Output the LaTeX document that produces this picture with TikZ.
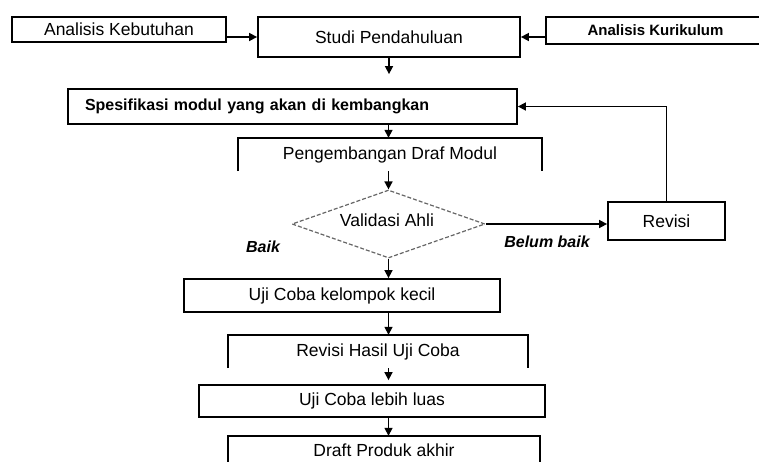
\documentclass[tikz,border=0pt]{standalone}
\usepackage{fontspec}
\setmainfont{Liberation Sans}
\usetikzlibrary{shapes.geometric,arrows.meta,calc}
\begin{document}
\begin{tikzpicture}[x=1pt,y=-1pt,
  box/.style={draw, line width=1.8pt, inner sep=0pt, anchor=center},
  obox/.style={inner sep=0pt, anchor=center},
  oline/.style={line width=1.8pt},
  arr/.style={line width=1.6pt, -{Triangle[length=8pt,width=8pt]}},
  ftop/.style={font=\fontsize{17.5}{20}\selectfont},
  fbold/.style={font=\fontsize{15}{18}\selectfont\bfseries},
  fspes/.style={font=\fontsize{16}{19}\selectfont\bfseries},
  fmid/.style={font=\fontsize{17.5}{20}\selectfont},
  flab/.style={font=\fontsize{16}{19}\selectfont\bfseries\itshape},
  dia/.style={shape=diamond, draw=black!60, dashed, dash pattern=on 4pt off 2pt, line width=1.2pt, inner sep=0pt, aspect=2.84, minimum width=193pt, minimum height=68pt}
]
\useasboundingbox (0,0) rectangle (759,461);
\clip (0,0) rectangle (759,461);

\node[box, ftop, minimum width=214pt, minimum height=25pt] (keb) at (119,29.5) {Analisis Kebutuhan};
\node[box, ftop, minimum width=262pt, minimum height=40pt] (studi) at (389,37) {Studi Pendahuluan};
\node[box, fbold, minimum width=219pt, minimum height=27pt] (kur) at (655.5,30.5) {Analisis Kurikulum};

\node[box, fspes, minimum width=449pt, minimum height=35pt, text width=415pt, inner xsep=17pt, align=left] (spes) at (292.5,106.5) {Spesifikasi modul yang akan di kembangkan};

\node[obox, fmid, minimum width=304pt, minimum height=33pt] (peng) at (390,154.5) {Pengembangan Draf Modul};
\draw[oline] (peng.south west) -- (peng.north west) -- (peng.north east) -- (peng.south east);

\node[dia] (val) at (388.5,224) {};
\node[fmid, inner sep=0pt] (valt) at (387,220) {Validasi Ahli};

\node[box, fmid, minimum width=117pt, minimum height=38pt] (rev) at (666.5,221) {Revisi};

\node[flab] (baik) at (263,247) {Baik};
\node[flab] (belum) at (547,242) {Belum baik};

\node[box, fmid, minimum width=316pt, minimum height=33pt] (uk) at (342,295.5) {Uji Coba kelompok kecil};

\node[obox, fmid, minimum width=300pt, minimum height=33pt] (rh) at (378,351.5) {Revisi Hasil Uji Coba};
\draw[oline] (rh.south west) -- (rh.north west) -- (rh.north east) -- (rh.south east);

\node[box, fmid, minimum width=346pt, minimum height=32pt] (ul) at (372,401) {Uji Coba lebih luas};

\node[obox, fmid, minimum width=312pt, minimum height=28pt] (dr) at (384,450) {Draft Produk akhir};
\draw[oline] (dr.south west) -- (dr.north west) -- (dr.north east) -- (dr.south east);

% connectors
\draw[arr] (keb.east |- studi.west) -- (studi.west);
\draw[arr] (kur.west |- studi.east) -- (studi.east);
\draw[arr, shorten >=14pt] (studi.south) -- (studi.south |- spes.north);
\draw[arr] (val.north |- spes.south) -- (val.north |- peng.north);
\draw[arr] (val.north |- peng.south) -- (val.north);
\draw[arr] (val.east) -- (rev.west |- val.east);
\draw[arr] (rev.north) |- (spes.east);
\draw[arr] (val.south) -- (val.south |- uk.north);
\draw[arr] (val.south |- uk.south) -- (val.south |- rh.north);
\draw[arr, shorten >=4pt] (val.south |- rh.south) -- (val.south |- ul.north);
\draw[arr] (val.south |- ul.south) -- (val.south |- dr.north);
\end{tikzpicture}
\end{document}
